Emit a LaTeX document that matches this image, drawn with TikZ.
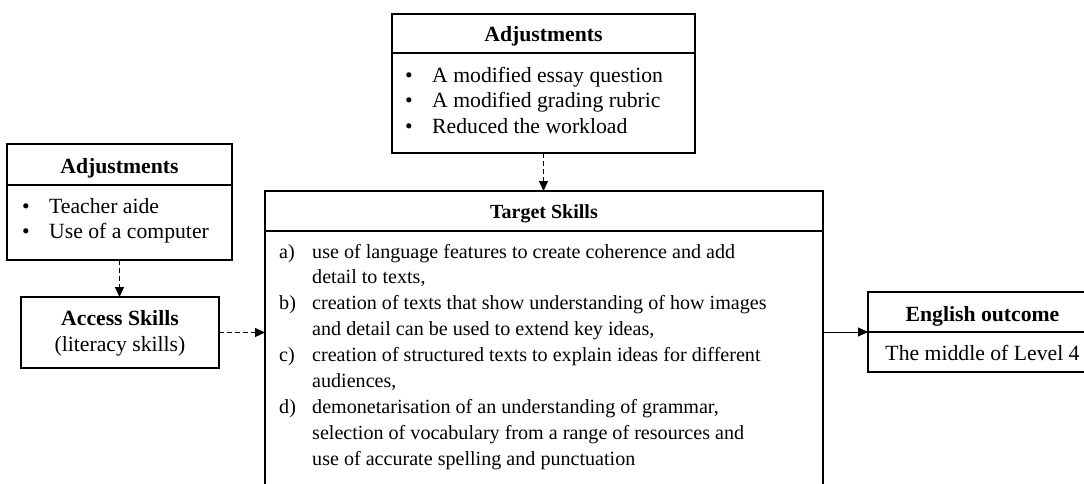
\documentclass[tikz,border=0pt]{standalone}
\usepackage{fontspec}
\setmainfont{Liberation Serif}
\usetikzlibrary{arrows.meta}
\begin{document}
\begin{tikzpicture}[x=1pt,y=-1pt,
  box/.style={draw, line width=1.5pt, inner sep=0pt, outer sep=0pt},
  div/.style={line width=1.5pt},
  hd/.style={inner sep=0pt, anchor=base, font=\fontsize{21.7}{26}\bfseries\selectfont},
  hds/.style={inner sep=0pt, anchor=base, font=\fontsize{20}{26}\bfseries\selectfont},
  it/.style={inner sep=0pt, anchor=base west, font=\fontsize{21.7}{26}\selectfont},
  cit/.style={inner sep=0pt, anchor=base, font=\fontsize{21.7}{26}\selectfont},
  sm/.style={inner sep=0pt, anchor=base west, font=\fontsize{20.1}{26}\selectfont},
  conn/.style={line width=0.9pt, -{Triangle[length=10pt,width=9pt]}},
  dconn/.style={conn, dash pattern=on 5pt off 3pt}
]
\useasboundingbox (0,0) rectangle (1084,483);
\clip (0,0) rectangle (1084,483);

% top adjustments
\node[box, minimum width=303pt, minimum height=139pt] (adjT) at (543.5,83.5) {};
\draw[div] ([yshift=-39pt]adjT.north west) -- ([yshift=-39pt]adjT.north east);
\node[hd] (adjTt) at (543.5,41) {Adjustments};
\node[it] (adjTb1) at (405,82) {•};
\node[it] (adjTi1) at (432,82) {A modified essay question};
\node[it] (adjTb2) at (405,107.5) {•};
\node[it] (adjTi2) at (432,107.5) {A modified grading rubric};
\node[it] (adjTb3) at (405,133) {•};
\node[it] (adjTi3) at (432,133) {Reduced the workload};

% left adjustments
\node[box, minimum width=225pt, minimum height=116pt] (adjL) at (119.5,202) {};
\draw[div] ([yshift=-41pt]adjL.north west) -- ([yshift=-41pt]adjL.north east);
\node[hd] (adjLt) at (119.5,173) {Adjustments};
\node[it] (adjLb1) at (22,213) {•};
\node[it] (adjLi1) at (49,213) {Teacher aide};
\node[it] (adjLb2) at (22,238) {•};
\node[it] (adjLi2) at (49,238) {Use of a computer};

% access skills
\node[box, minimum width=198pt, minimum height=71pt] (acc) at (120,332.5) {};
\node[hd] (acct) at (120,325) {Access Skills};
\node[cit] (accs) at (120,351) {(literacy skills)};

% target skills
\node[box, minimum width=558pt, minimum height=329pt] (tgt) at (544,355.5) {};
\draw[div] ([yshift=-40pt]tgt.north west) -- ([yshift=-40pt]tgt.north east);
\node[hds] (tgtt) at (544,218) {Target Skills};
\node[sm] (la) at (279,258) {a)};
\node[sm] (ta1) at (312,258) {use of language features to create coherence and add};
\node[sm] (ta2) at (312,283.9) {detail to texts,};
\node[sm] (lb) at (279,309.8) {b)};
\node[sm] (tb1) at (312,309.8) {creation of texts that show understanding of how images};
\node[sm] (tb2) at (312,335.7) {and detail can be used to extend key ideas,};
\node[sm] (lc) at (279,361.6) {c)};
\node[sm] (tc1) at (312,361.6) {creation of structured texts to explain ideas for different};
\node[sm] (tc2) at (312,387.5) {audiences,};
\node[sm] (ld) at (279,413.4) {d)};
\node[sm] (td1) at (312,413.4) {demonetarisation of an understanding of grammar,};
\node[sm] (td2) at (312,439.3) {selection of vocabulary from a range of resources and};
\node[sm] (td3) at (312,465.2) {use of accurate spelling and punctuation};

% english outcome
\node[box, minimum width=229pt, minimum height=80pt] (eng) at (982.5,332) {};
\draw[div] (eng.west) -- (eng.east);
\node[hd] (engt) at (982.5,321) {English outcome};
\node[cit] (engs) at (982.5,360) {The middle of Level 4};

% connectors
\draw[dconn] (adjT.south) -- (adjT.south |- tgt.north);
\draw[dconn] (adjL.south) -- (adjL.south |- acc.north);
\draw[dconn] (acc.east) -- (acc.east -| tgt.west);
\draw[conn] (tgt.east |- eng.west) -- (eng.west);
\end{tikzpicture}
\end{document}
